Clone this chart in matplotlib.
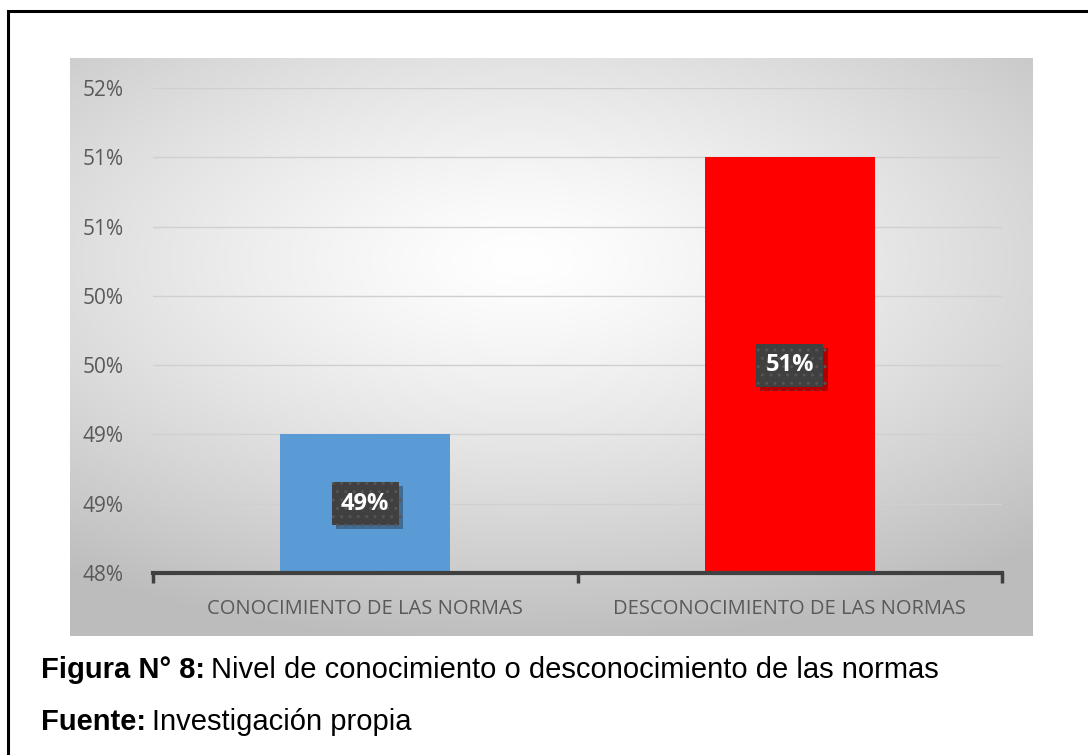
import numpy as np
import matplotlib
matplotlib.use("Agg")
import matplotlib.pyplot as plt
from matplotlib.patches import Rectangle
from matplotlib import patheffects

categories = ["CONOCIMIENTO DE LAS NORMAS", "DESCONOCIMIENTO DE LAS NORMAS"]
values = [0.49, 0.51]
value_labels = ["49%", "51%"]
bar_colors = ["#5B9BD5", "#FF0000"]
y_ticks = [0.48, 0.485, 0.49, 0.495, 0.50, 0.505, 0.51, 0.515]
y_tick_labels = ["48%", "49%", "49%", "50%", "50%", "51%", "51%", "52%"]

W, H = 1088, 755
fig = plt.figure(figsize=(W / 100, H / 100), dpi=100)
fig.patch.set_facecolor("white")

def fx(px):
    return px / W

def fy(py):
    return 1 - py / H

# outer frame
fig.add_artist(Rectangle((fx(8), fy(800)), fx(1100), fy(11) - fy(800), transform=fig.transFigure,
                         fill=False, edgecolor="black", linewidth=2.2))

# chart background with radial gradient
bx0, by0, bx1, by1 = 70, 58, 1033, 636
bg = fig.add_axes([fx(bx0), fy(by1), fx(bx1 - bx0), fy(by0) - fy(by1)])
nx, ny = 400, 240
xx, yy = np.meshgrid(np.linspace(0, 1, nx), np.linspace(0, 1, ny))
cx, cy = 0.47, 0.35
r = np.sqrt(((xx - cx) * 1.0) ** 2 + ((yy - cy) * 1.2) ** 2)
r = np.clip(r / 0.8, 0, 1)
val = 1.0 - 0.26 * r ** 1.3
img = np.dstack([val, val, val])
bg.imshow(img, aspect="auto", extent=[0, 1, 0, 1], origin="upper")
bg.set_axis_off()

# main axes
ax_l, ax_r, ax_t, ax_b = 153, 1002, 88, 573
ax = fig.add_axes([fx(ax_l), fy(ax_b), fx(ax_r - ax_l), fy(ax_t) - fy(ax_b)])
ax.set_facecolor("none")

x = np.arange(len(categories))
y0 = y_ticks[0]
y_top = y_ticks[-1]
ax.bar(x, [v - y0 for v in values], bottom=y0, width=0.4, color=bar_colors, zorder=2)
ax.set_xlim(-0.5, 1.5)
ax.set_ylim(y0, y_top)

ax.set_yticks(y_ticks)
ax.set_yticklabels(y_tick_labels)
ax.yaxis.grid(True, color="#d0d0d0", linewidth=1.0, zorder=0)
ax.set_axisbelow(True)
ax.tick_params(axis="y", length=0, pad=21, labelsize=15, labelcolor="#595959")
for lab in ax.get_yticklabels():
    lab.set_fontfamily("Open Sans")

ax.set_xticks(x)
ax.set_xticklabels(categories)
ax.tick_params(axis="x", which="major", length=0, pad=19, labelsize=14.5, labelcolor="#595959")
for lab in ax.get_xticklabels():
    lab.set_fontfamily("Open Sans")
ax.set_xticks([-0.5, 0.5, 1.5], minor=True)
ax.tick_params(axis="x", which="minor", length=7, width=2.5, color="#404040", direction="out")

for side in ["left", "right", "top"]:
    ax.spines[side].set_visible(False)
ax.spines["bottom"].set_color("#404040")
ax.spines["bottom"].set_linewidth(3)
ax.spines["bottom"].set_zorder(5)

# data labels
for xi, v, lab in zip(x, values, value_labels):
    t = ax.text(xi, (y0 + v) / 2, lab, ha="center", va="center", color="white",
                fontsize=17, fontweight="bold", fontfamily="Open Sans", zorder=6,
                bbox=dict(boxstyle="square,pad=0.4", facecolor="#404040",
                          edgecolor="#555555", linewidth=0, hatch=".."))
    t.get_bbox_patch().set_path_effects([
        patheffects.withSimplePatchShadow(offset=(3, -3), shadow_rgbFace="black", alpha=0.3),
        patheffects.Normal()])

# captions
fig.canvas.draw()
r_ = fig.canvas.get_renderer()
cap_font = "Liberation Sans"
cap_size = 21
t1 = fig.text(fx(41), fy(678), "Figura N° 8:", fontsize=cap_size, fontweight="bold",
              fontfamily=cap_font, va="baseline")
bb = t1.get_window_extent(renderer=r_)
fig.text(bb.x1 / W + fx(6), fy(678), "Nivel de conocimiento o desconocimiento de las normas",
         fontsize=cap_size, fontfamily=cap_font, va="baseline")
t2 = fig.text(fx(41), fy(730), "Fuente:", fontsize=cap_size, fontweight="bold",
              fontfamily=cap_font, va="baseline")
bb2 = t2.get_window_extent(renderer=r_)
fig.text(bb2.x1 / W + fx(6), fy(730), "Investigación propia",
         fontsize=cap_size, fontfamily=cap_font, va="baseline")

fig.savefig("out.png", dpi=100)
